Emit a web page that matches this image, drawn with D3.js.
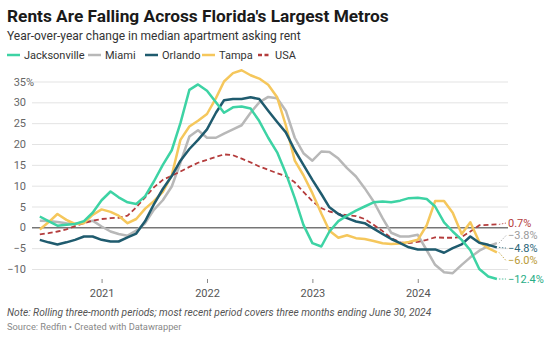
<!DOCTYPE html>
<html>
<head>
<meta charset="utf-8">
<script src="https://cdn.jsdelivr.net/npm/d3@7"></script>
<style>
  body { margin: 0; background: #fff; font-family: Roboto, "Noto Sans", sans-serif; }
  svg text { font-family: Roboto, "Noto Sans", sans-serif; }
</style>
</head>
<body>
<div id="chart"></div>
<script>
// monthly rolling periods, first one starting June 2020
var startMonth = new Date(2020, 5, 1);

var jacksonville = [2.6, 1.5, 0.4, 0.6, 0.8, 1.5, 3.5, 6.5, 8.6, 7.2, 6.0, 5.6, 7.5, 11, 15, 18.5, 25, 33, 34.3, 32.8,
  30, 27.5, 28.8, 29, 28.5, 25.5, 21.5, 18, 13, 7, 0.6, -3.8, -4.6, -1, 1.5, 2.8, 4, 5, 6, 6.2,
  6, 6.4, 7, 7.1, 6.8, 5, 1.2, -1, -3, -5.5, -10, -11.8, -12.4];
var miami = [1.6, 1.5, 1.3, 1.0, 0.8, 1.2, 1.6, 0.2, -1.0, -1.6, -2.0, -0.8, 1.0, 4.2, 6.5, 9.8, 15.5, 21.8, 23.3, 21.5,
  21.5, 22.5, 23.5, 24.5, 27.5, 30, 31.3, 31, 28, 21.5, 17.8, 16, 18.2, 18.1, 16.5, 14.2, 12.2, 9.4, 6.2, 2.2,
  -1.3, -2.2, -2.2, -1.8, -5.5, -9, -10.8, -11, -9, -7.2, -5.6, -4.5, -3.8];
var orlando = [-3, -3.6, -4.1, -3.6, -3, -2.2, -2.2, -3, -3.4, -3.4, -2.4, -1.5, 1.5, 5.5, 9.2, 12.3, 16, 18.8, 21, 23.5,
  27.5, 30.5, 30.8, 30.8, 31.2, 30.8, 28, 25.3, 22.8, 18.5, 15, 11.4, 8, 4.8, 3.2, 2.2, 1.4, 1.0, -0.3, -1.6,
  -2.8, -3.8, -4.8, -5.3, -5.3, -5.3, -6.1, -5, -4.1, -2.2, -3.7, -4.2, -4.8];
var tampa = [-0.5, 1.2, 3.2, 1.8, 0.8, 1.0, 3.0, 4.3, 3.7, 2.8, 1.0, 2.0, 4.5, 6.3, 8.5, 12.5, 21, 24.2, 25.6, 27.2,
  31, 35, 37, 37.7, 36.5, 35.7, 34.2, 31.2, 24.5, 16, 12.5, 8.2, 3.3, -0.8, -2.5, -1.9, -2.6, -2.8, -3.3, -3.8,
  -4, -3.9, -3.5, -3, 0.5, 6.3, 6.3, 3.5, -1.6, 1.2, -3.5, -5, -6.0];
var usa = [-1.7, -1.4, -1.0, -0.5, 0.3, 1.0, 1.6, 2.0, 2.2, 2.3, 2.8, 4.8, 7.2, 9.6, 11.4, 12.4, 13.4, 14.5, 15.5, 16.2,
  16.9, 17.5, 17.3, 16.5, 15.6, 14.6, 13.8, 13.0, 12.3, 10.8, 8.5, 6.3, 4.6, 3.8, 3.3, 2.9, 2.7, 2.0, 0.6, -0.9,
  -2.6, -3.6, -3.8, -3.5, -3.0, -2.4, -2.5, -2.5, -2.3, -1.0, 0.5, 0.6, 0.7];

var seriesNames = ["Jacksonville", "Miami", "Orlando", "Tampa", "USA"];
var seriesValues = [jacksonville, miami, orlando, tampa, usa];
var lineColors = ["#3dd3a4", "#b8b8b8", "#1f5b6e", "#f5c75c", "#b43c3c"];
var labelColors = ["#27ad86", "#9a9a9a", "#2a6577", "#b99a35", "#b43c3c"];

var yTicks = [-10, -5, 0, 5, 10, 15, 20, 25, 30, 35];
var xTickYears = [2021, 2022, 2023, 2024];

var width = 554,
    height = 339;

var dates = jacksonville.map(function(d, i) { return d3.timeMonth.offset(startMonth, i); });

var series = seriesNames.map(function(name, k) {
  return {
    name: name,
    color: lineColors[k],
    labelColor: labelColors[k],
    dashed: name === "USA",
    values: seriesValues[k].map(function(v, i) { return { date: dates[i], value: v }; })
  };
});

var svg = d3.select("#chart").append("svg")
    .attr("width", width)
    .attr("height", height);

// header
svg.append("text")
    .attr("x", 7)
    .attr("y", 22)
    .attr("font-size", "17.3px")
    .attr("font-weight", "bold")
    .attr("fill", "#1a1a1a")
    .text("Rents Are Falling Across Florida's Largest Metros");

svg.append("text")
    .attr("x", 7)
    .attr("y", 40)
    .attr("font-size", "12px")
    .attr("fill", "#333")
    .text("Year-over-year change in median apartment asking rent");

// legend
var legendX = [7, 88, 145, 202, 258];
var legend = svg.selectAll(".legend")
    .data(series)
  .enter().append("g")
    .attr("class", "legend")
    .attr("transform", function(d, i) { return "translate(" + legendX[i] + ",55)"; });

legend.append("line")
    .attr("x1", 0)
    .attr("x2", 13)
    .attr("stroke", function(d) { return d.color; })
    .attr("stroke-width", 2.5)
    .attr("stroke-dasharray", function(d) { return d.dashed ? "4,2.5" : null; });

legend.append("text")
    .attr("x", 17)
    .attr("dy", "0.35em")
    .attr("font-size", "11px")
    .attr("fill", "#333")
    .text(function(d) { return d.name; });

// scales
var x = d3.scaleTime()
    .domain([dates[0], dates[dates.length - 1]])
    .range([39.8, 496.9]);

var y = d3.scaleLinear()
    .domain([-10, 35])
    .range([269, 81.5]);

var gridLeft = 32, gridRight = 508;

// y grid + labels
var yAxis = svg.append("g")
    .attr("transform", "translate(" + gridRight + ",0)")
    .call(d3.axisLeft(y)
      .tickValues(yTicks)
      .tickSize(gridRight - gridLeft)
      .tickFormat(function(d) { return d < 0 ? "\u2212" + Math.abs(d) : d; }));

yAxis.select(".domain").remove();
yAxis.selectAll(".tick line")
    .attr("stroke", function(d) { return d === 0 ? "#333" : "#e3e3e3"; })
    .attr("stroke-width", function(d) { return d === 0 ? 1 : 1; });
yAxis.selectAll(".tick text")
    .attr("x", -(gridRight - 26))
    .attr("font-size", "11px")
    .attr("fill", "#666");
yAxis.selectAll(".tick").filter(function(d) { return d === 35; })
  .append("text")
    .attr("x", -(gridRight - 26))
    .attr("dy", "0.32em")
    .attr("text-anchor", "start")
    .attr("font-size", "11px")
    .attr("fill", "#666")
    .text("%");
yAxis.selectAll(".tick").filter(function(d) { return d === 0; }).raise();

// x axis
var xAxis = svg.append("g")
    .attr("transform", "translate(0,279)")
    .call(d3.axisBottom(x)
      .tickValues(xTickYears.map(function(yr) { return new Date(yr, 0, 1); }))
      .tickSize(4)
      .tickPadding(6)
      .tickFormat(d3.timeFormat("%Y")));

xAxis.select(".domain").remove();
xAxis.selectAll(".tick line").attr("stroke", "#888");
xAxis.selectAll(".tick text")
    .attr("font-size", "11px")
    .attr("fill", "#555");

// lines
var line = d3.line()
    .x(function(d) { return x(d.date); })
    .y(function(d) { return y(d.value); });

var drawOrder = [1, 4, 3, 2, 0];
svg.selectAll(".series")
    .data(drawOrder.map(function(k) { return series[k]; }))
  .enter().append("path")
    .attr("class", "series")
    .attr("d", function(d) { return line(d.values); })
    .attr("fill", "none")
    .attr("stroke", function(d) { return d.color; })
    .attr("stroke-width", function(d) { return d.dashed ? 1.8 : 2.5; })
    .attr("stroke-dasharray", function(d) { return d.dashed ? "5,3" : null; })
    .attr("stroke-linejoin", "round");

// end labels, pushed apart so they don't overlap
var ends = series.map(function(s) {
  var last = s.values[s.values.length - 1];
  return { s: s, value: last.value, x: x(last.date), y: y(last.value), ly: y(last.value) };
}).sort(function(a, b) { return a.y - b.y; });

var gap = 12.5;
for (var it = 0; it < 60; it++) {
  for (var j = 1; j < ends.length; j++) {
    var diff = ends[j].ly - ends[j - 1].ly;
    if (diff < gap) {
      var shift = (gap - diff) / 2;
      ends[j - 1].ly -= shift;
      ends[j].ly += shift;
    }
  }
}

var labelX = 508;
svg.selectAll(".connector")
    .data(ends)
  .enter().append("line")
    .attr("class", "connector")
    .attr("x1", function(d) { return d.x + 2; })
    .attr("y1", function(d) { return d.y; })
    .attr("x2", labelX - 2)
    .attr("y2", function(d) { return d.ly; })
    .attr("stroke", function(d) { return d.s.labelColor; })
    .attr("stroke-width", 0.8)
    .attr("stroke-dasharray", "1.5,1.5");

svg.selectAll(".end-label")
    .data(ends)
  .enter().append("text")
    .attr("class", "end-label")
    .attr("x", labelX)
    .attr("y", function(d) { return d.ly; })
    .attr("dy", "0.35em")
    .attr("font-size", "11px")
    .attr("fill", function(d) { return d.s.labelColor; })
    .text(function(d) { return (d.value < 0 ? "\u2212" : "") + Math.abs(d.value).toFixed(1) + "%"; });

// footer
svg.append("text")
    .attr("x", 7)
    .attr("y", 316)
    .attr("font-size", "10.2px")
    .attr("font-style", "italic")
    .attr("fill", "#555")
    .text("Note: Rolling three-month periods; most recent period covers three months ending June 30, 2024");

svg.append("text")
    .attr("x", 7)
    .attr("y", 330)
    .attr("font-size", "9.3px")
    .attr("fill", "#888")
    .text("Source: Redfin \u2022 Created with Datawrapper");
</script>
</body>
</html>
